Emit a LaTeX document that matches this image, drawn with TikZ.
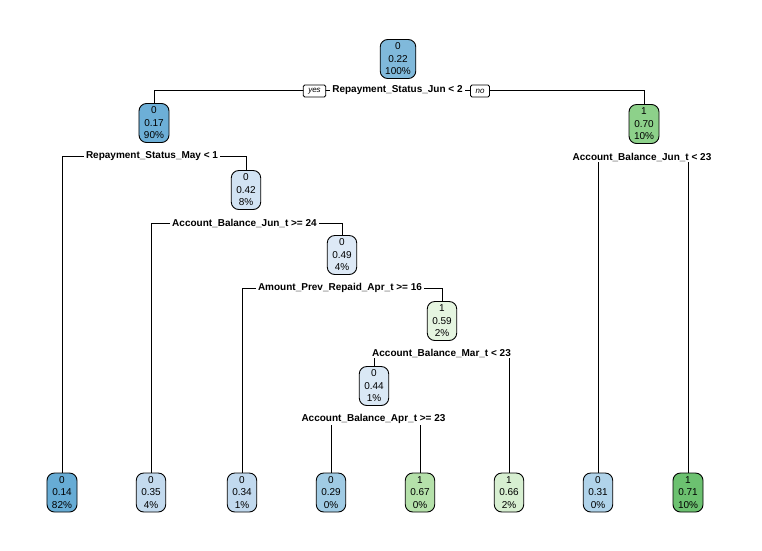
\documentclass[tikz,border=0pt]{standalone}
\usepackage{fontspec}
\setmainfont{Liberation Sans}
\usetikzlibrary{backgrounds}

% node fills: blues for class 0, greens for class 1
\definecolor{b014}{HTML}{67ACD5}
\definecolor{b017}{HTML}{6DAFD7}
\definecolor{b022}{HTML}{80B9DB}
\definecolor{b029}{HTML}{A0CBE4}
\definecolor{b031}{HTML}{B0D3EA}
\definecolor{b034}{HTML}{C1D9EE}
\definecolor{b035}{HTML}{C3DAEE}
\definecolor{b042}{HTML}{D2E3F3}
\definecolor{b044}{HTML}{DAE8F5}
\definecolor{b049}{HTML}{DDE9F6}
\definecolor{g059}{HTML}{E5F5E0}
\definecolor{g066}{HTML}{D7EFD1}
\definecolor{g067}{HTML}{B5E1AA}
\definecolor{g070}{HTML}{8DD18A}
\definecolor{g071}{HTML}{6CC170}

\tikzset{
  treenode/.style={draw=black, line width=0.9pt, rectangle, rounded corners=7.5pt,
    align=center, inner xsep=5pt, inner ysep=2pt, minimum height=39pt,
    font=\fontsize{10}{12.5}\selectfont},
  splitlab/.style={fill=white, inner xsep=2pt, inner ysep=1pt,
    font=\bfseries\fontsize{10}{12}\selectfont},
  yesno/.style={draw=black, line width=0.8pt, fill=white, rounded corners=1.5pt,
    inner xsep=5pt, inner ysep=0pt, minimum height=12pt,
    font=\itshape\fontsize{8}{9}\selectfont},
  branch/.style={draw=black, line width=0.8pt}
}

\begin{document}
\begin{tikzpicture}[x=1pt, y=-1pt]
\useasboundingbox (0,0) rectangle (762,550);

% internal nodes
\node[treenode, fill=b022] (root) at (398,59)  {0\\0.22\\100\%};
\node[treenode, fill=b017] (n2)   at (154,123) {0\\0.17\\90\%};
\node[treenode, fill=g070] (n3)   at (644,124) {1\\0.70\\10\%};
\node[treenode, fill=b042] (n4)   at (246,190) {0\\0.42\\8\%};
\node[treenode, fill=b049] (n5)   at (342,255) {0\\0.49\\4\%};
\node[treenode, fill=g059] (n6)   at (442,321) {1\\0.59\\2\%};
\node[treenode, fill=b044] (n7)   at (374,386) {0\\0.44\\1\%};

% leaves
\node[treenode, fill=b014] (l1) at (62,492.5)  {0\\0.14\\82\%};
\node[treenode, fill=b035] (l2) at (151,492.5) {0\\0.35\\4\%};
\node[treenode, fill=b034] (l3) at (242,492.5) {0\\0.34\\1\%};
\node[treenode, fill=b029] (l4) at (331,492.5) {0\\0.29\\0\%};
\node[treenode, fill=g067] (l5) at (420,492.5) {1\\0.67\\0\%};
\node[treenode, fill=g066] (l6) at (509,492.5) {1\\0.66\\2\%};
\node[treenode, fill=b031] (l7) at (598,492.5) {0\\0.31\\0\%};
\node[treenode, fill=g071] (l8) at (688,492.5) {1\\0.71\\10\%};

% split labels
\node[splitlab] (s1) at (397.5,90) {Repayment\_Status\_Jun < 2};
\node[splitlab] (s2) at (152,156)  {Repayment\_Status\_May < 1};
\node[splitlab] (s3) at (642,157)  {Account\_Balance\_Jun\_t < 23};
\node[splitlab] (s4) at (244.5,223) {Account\_Balance\_Jun\_t >= 24};
\node[splitlab] (s5) at (340,288)  {Amount\_Prev\_Repaid\_Apr\_t >= 16};
\node[splitlab] (s6) at (441.5,353) {Account\_Balance\_Mar\_t < 23};
\node[splitlab] (s7) at (373.5,419) {Account\_Balance\_Apr\_t >= 23};

% yes / no tags on the first split
\node[yesno] (yes) at (314.5,91) {yes};
\node[yesno] (no)  at (480,91)   {no};

% branches, drawn beneath the labels
\begin{scope}[on background layer]
  \fill[white] (0,0) rectangle (762,550);
  \draw[branch] (s1.center) -| (n2.north);
  \draw[branch] (s1.center) -| (n3.north);
  \draw[branch] (s2.center) -| (l1.north);
  \draw[branch] (s2.center) -| (n4.north);
  \draw[branch] (s3.center) -| (l7.north);
  \draw[branch] (s3.center) -| (l8.north);
  \draw[branch] (s4.center) -| (l2.north);
  \draw[branch] (s4.center) -| (n5.north);
  \draw[branch] (s5.center) -| (l3.north);
  \draw[branch] (s5.center) -| (n6.north);
  \draw[branch] (s6.center) -| (n7.north);
  \draw[branch] (s6.center) -| (l6.north);
  \draw[branch] (s7.center) -| (l4.north);
  \draw[branch] (s7.center) -| (l5.north);
\end{scope}
\end{tikzpicture}
\end{document}
